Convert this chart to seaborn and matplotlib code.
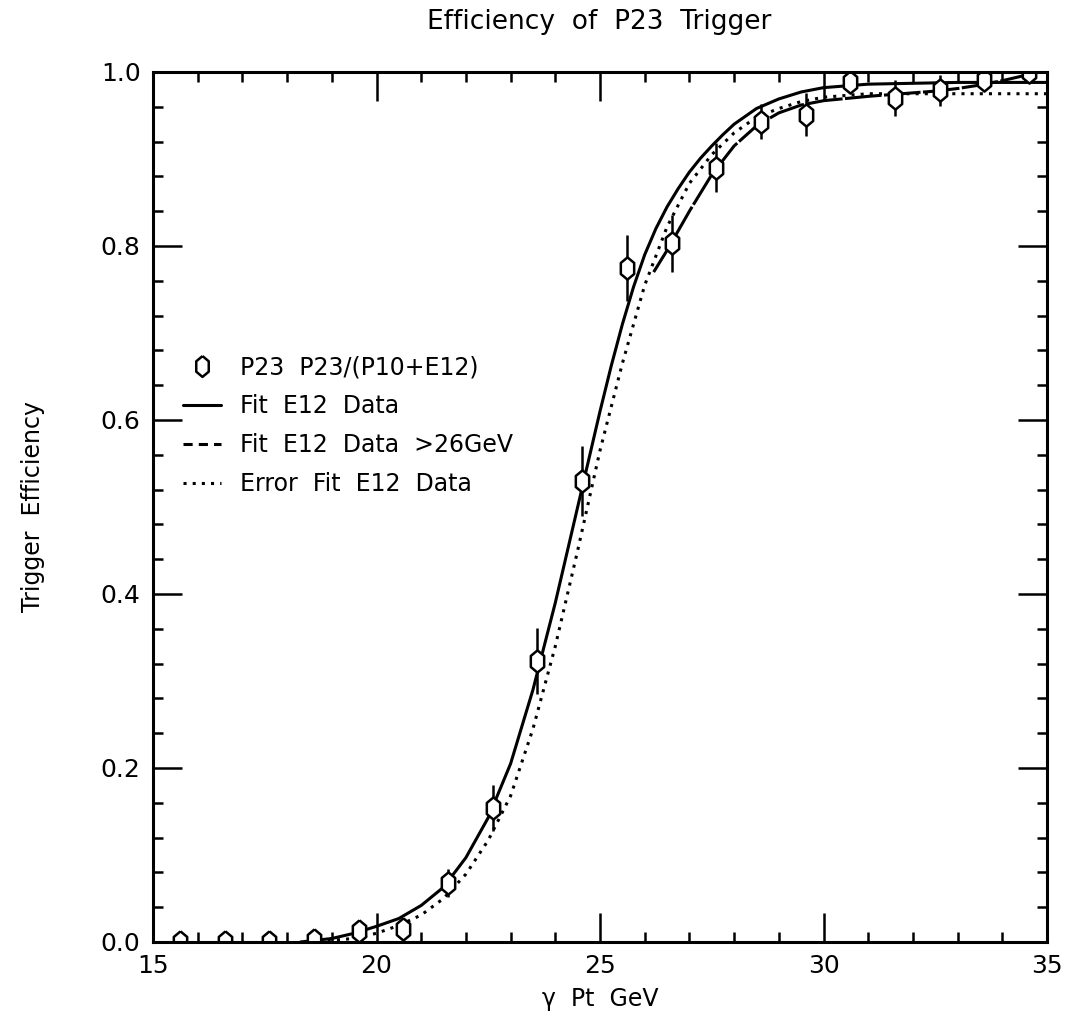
import numpy as np
import pandas as pd
import seaborn as sns
import matplotlib.pyplot as plt
from matplotlib.lines import Line2D
from matplotlib.ticker import MultipleLocator

sns.set_style("ticks")
plt.rcParams['font.family'] = ['DejaVu Sans']
plt.rcParams['text.color'] = 'black'
plt.rcParams['axes.labelcolor'] = 'black'

# measured P23/(P10+E12) efficiency
pt = [15.6, 16.6, 17.6, 18.6, 19.6, 20.6, 21.6, 22.6, 23.6, 24.6,
      25.6, 26.6, 27.6, 28.6, 29.6, 30.6, 31.6, 32.6, 33.6, 34.6]
eff = [0.0, 0.0, 0.0, 0.002, 0.013, 0.015, 0.068, 0.154, 0.323, 0.53,
       0.775, 0.803, 0.89, 0.943, 0.951, 0.989, 0.970, 0.979, 0.991, 1.0]
eff_err = [0.0, 0.0, 0.0, 0.003, 0.008, 0.012, 0.016, 0.027, 0.038, 0.040,
           0.038, 0.033, 0.028, 0.020, 0.025, 0.012, 0.021, 0.018, 0.013, 0.01]

# fit to E12 data (solid)
fit_x = [18.3, 19.0, 19.5, 20.0, 20.5, 21.0, 21.5, 22.0, 22.5, 23.0, 23.5, 24.0,
         24.5, 25.0, 25.25, 25.5, 25.75, 26.0, 26.25, 26.5, 26.75, 27.0, 27.25,
         27.5, 27.75, 28.0, 28.5, 29.0, 29.5, 30.0, 31.0, 32.0, 33.0, 34.0, 35.0]
fit_y = [0.0, 0.004, 0.010, 0.018, 0.027, 0.042, 0.063, 0.097, 0.143, 0.205, 0.29, 0.39,
         0.50, 0.61, 0.662, 0.71, 0.753, 0.79, 0.82, 0.845, 0.866, 0.885, 0.901,
         0.915, 0.928, 0.94, 0.958, 0.969, 0.977, 0.982, 0.986, 0.987, 0.988, 0.988, 0.988]

# fit to E12 data above 26 GeV (dashed)
fit26_x = [26.2, 26.5, 27.0, 27.5, 28.0, 28.5, 29.0, 29.5, 30.0, 31.0, 32.0,
           32.5, 33.0, 33.5, 34.0, 34.5, 35.0]
fit26_y = [0.77, 0.795, 0.84, 0.882, 0.915, 0.938, 0.953, 0.962, 0.967, 0.972, 0.976,
           0.978, 0.981, 0.985, 0.99, 0.996, 1.003]

# error fit (dotted)
err_x = [18.5, 19.5, 20.0, 20.5, 21.0, 21.5, 22.0, 22.5, 23.0, 23.5, 24.0, 24.5,
         25.0, 25.5, 26.0, 26.5, 27.0, 27.5, 28.0, 28.5, 29.0, 29.5, 30.0, 31.0,
         32.0, 35.0]
err_y = [0.0, 0.004, 0.010, 0.019, 0.031, 0.050, 0.078, 0.117, 0.168, 0.245, 0.34, 0.45,
         0.565, 0.665, 0.755, 0.822, 0.872, 0.905, 0.93, 0.948, 0.958, 0.966, 0.971, 0.975,
         0.975, 0.975]

HEX = [(0, 1), (0.6, 0.5), (0.6, -0.5), (0, -1), (-0.6, -0.5), (-0.6, 0.5), (0, 1)]
DOT = (0, (1, 2))
DASH = (0, (12, 0.8))

fig = plt.figure(figsize=(10.65, 10.21), dpi=100)
ax = fig.add_axes([0.1437, 0.0774, 0.8394, 0.8521])

sns.lineplot(x=fit_x, y=fit_y, ax=ax, color='black', lw=2.2, estimator=None, sort=False)
sns.lineplot(x=fit26_x, y=fit26_y, ax=ax, color='black', lw=2.2, linestyle=DASH,
             estimator=None, sort=False)
sns.lineplot(x=err_x, y=err_y, ax=ax, color='black', lw=2.2, linestyle=DOT,
             estimator=None, sort=False)

ax.errorbar(pt, eff, yerr=eff_err, fmt='none', ecolor='black', elinewidth=1.8, capsize=0)
ax.plot(pt, eff, ls='none', marker=HEX, ms=16, mfc='white', mec='black', mew=1.8)

ax.set_xlim(15, 35)
ax.set_ylim(0, 1.0)
ax.xaxis.set_major_locator(MultipleLocator(5))
ax.xaxis.set_minor_locator(MultipleLocator(1))
ax.yaxis.set_major_locator(MultipleLocator(0.2))
ax.yaxis.set_minor_locator(MultipleLocator(0.04))
ax.yaxis.set_major_formatter(plt.FormatStrFormatter('%.1f'))
ax.tick_params(which='both', direction='in', top=True, right=True, width=1.8,
               labelsize=18, colors='black')
ax.tick_params(which='major', length=21, pad=9)
ax.tick_params(which='minor', length=7)
for s in ax.spines.values():
    s.set_linewidth(2.2)
    s.set_color('black')

ax.set_xlabel('γ  Pt  GeV', fontsize=17, labelpad=6)
ax.set_ylabel('Trigger  Efficiency', fontsize=17, labelpad=40)
fig.text(0.563, 0.978, 'Efficiency  of  P23  Trigger', fontsize=19, ha='center', va='center')

handles = [
    Line2D([], [], ls='none', marker=HEX, ms=15, mfc='white', mec='black', mew=1.8),
    Line2D([], [], color='black', lw=2.2),
    Line2D([], [], color='black', lw=2.2, linestyle=(0, (3, 2))),
    Line2D([], [], color='black', lw=2.2, linestyle=DOT),
]
labels = ['P23  P23/(P10+E12)', 'Fit  E12  Data', 'Fit  E12  Data  >26GeV',
          'Error  Fit  E12  Data']
ax.legend(handles, labels, loc='upper left', bbox_to_anchor=(0.01, 0.699),
          frameon=False, fontsize=17, handlelength=1.6, handletextpad=0.8,
          labelspacing=0.64)

fig.savefig('out.png', dpi=100)
plt.close()
